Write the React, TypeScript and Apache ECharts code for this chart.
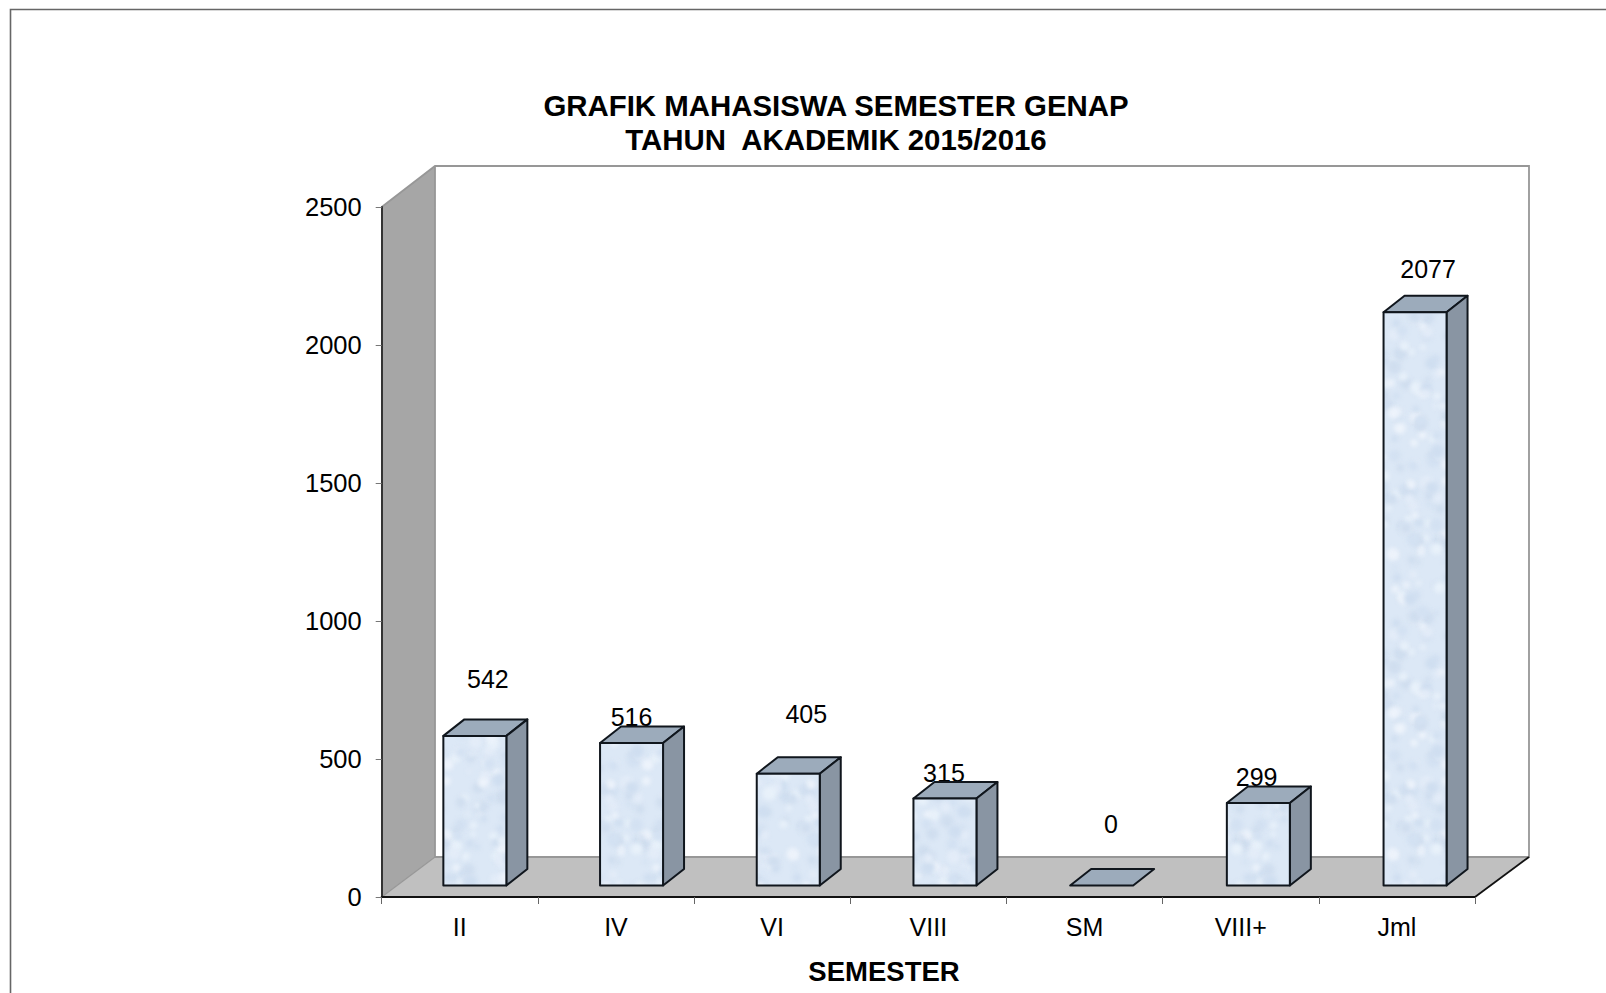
import React, { useEffect, useRef } from "react";
import * as echarts from "echarts";

const categories = ["II", "IV", "VI", "VIII", "SM", "VIII+", "Jml"];
const values = [542, 516, 405, 315, 0, 299, 2077];
const yTicks = { min: 0, max: 2500, interval: 500 };
const titleLines = "GRAFIK MAHASISWA SEMESTER GENAP\nTAHUN  AKADEMIK 2015/2016";
const xName = "SEMESTER";

// hand placement of each value label relative to the bar's front top centre
const labelDx = [13, 0, 18, -1, 9.3, -1.7, 13];
const labelDy = [-57, -25.6, -60, -25.3, -62, -25.5, -43.7];

const FONT = "'Liberation Sans', Arial, sans-serif";
const DEPTH_X = 21;
const DEPTH_Y = 16.5;

function makeTexture(): HTMLCanvasElement {
  const W = 200;
  const H = 300;
  const c = document.createElement("canvas");
  c.width = W;
  c.height = H;
  const ctx = c.getContext("2d") as CanvasRenderingContext2D;
  ctx.fillStyle = "#dce8f6";
  ctx.fillRect(0, 0, W, H);
  ctx.filter = "blur(2px)";
  const hues = ["#cfdef0", "#e8f1fa", "#d3e1f2", "#edf3fb", "#d0deef", "#e3ecf8"];
  for (let i = 0; i < 420; i++) {
    const a = Math.abs(Math.sin(i * 12.9898) * 43758.5453) % 1;
    const b = Math.abs(Math.sin(i * 78.233) * 24634.6345) % 1;
    const r = 2 + (Math.abs(Math.sin(i * 37.719) * 9631.17) % 1) * 5;
    ctx.fillStyle = hues[i % hues.length];
    for (const ox of [-W, 0, W]) {
      for (const oy of [-H, 0, H]) {
        ctx.beginPath();
        ctx.arc(a * W + ox, b * H + oy, r, 0, Math.PI * 2);
        ctx.fill();
      }
    }
  }
  return c;
}

export default function App() {
  const ref = useRef<HTMLDivElement>(null);
  useEffect(() => {
    const chart = echarts.init(ref.current as HTMLDivElement, undefined, { renderer: "svg" });
    const texture = makeTexture();
    const wallStroke = "#979797";
    const option: any = {
      animation: false,
      backgroundColor: "#ffffff",
      title: [
        {
          text: titleLines,
          left: 831,
          top: 83,
          textAlign: "center",
          textStyle: { fontFamily: FONT, fontWeight: "bold", fontSize: 29.4, lineHeight: 34.5, color: "#000" },
        },
        {
          text: xName,
          left: 879,
          top: 952,
          textAlign: "center",
          textStyle: { fontFamily: FONT, fontWeight: "bold", fontSize: 27.5, color: "#000" },
        },
      ],
      graphic: [
        { type: "polyline", z: -5, silent: true, shape: { points: [[10.5, 993], [10.5, 9.5], [1606, 9.5]] }, style: { fill: "none", stroke: "#666", lineWidth: 1.6 } },
        { type: "polygon", z: -4, silent: true, shape: { points: [[381.7, 207], [435, 166], [435, 857], [381.7, 897]] }, style: { fill: "#a6a6a6", stroke: "none" } },
        { type: "polygon", z: -4, silent: true, shape: { points: [[381.7, 897], [435, 857], [1529, 857], [1475, 897]] }, style: { fill: "#c0c0c0", stroke: "none" } },
        { type: "polyline", z: -3, silent: true, shape: { points: [[381.7, 207], [435, 166], [1529, 166], [1529, 857], [435, 857], [435, 166]] }, style: { fill: "none", stroke: wallStroke, lineWidth: 1.8 } },
        { type: "line", z: -3, silent: true, shape: { x1: 1475, y1: 897, x2: 1529, y2: 857 }, style: { stroke: "#111", lineWidth: 1.8 } },
        { type: "line", z: -3, silent: true, shape: { x1: 381.7, y1: 897, x2: 435, y2: 857 }, style: { stroke: wallStroke, lineWidth: 1.2 } },
      ],
      grid: [
        { left: 381.7, top: 207, width: 1093.3, height: 690 },
        { left: 396.5, top: 195.5, width: 1096.9, height: 690 },
      ],
      xAxis: [
        {
          type: "category",
          gridIndex: 0,
          data: categories,
          axisTick: { show: true, alignWithLabel: false, length: 7, lineStyle: { color: "#666", width: 1 } },
          axisLine: { lineStyle: { color: "#111", width: 2 } },
          axisLabel: { fontFamily: FONT, fontSize: 25, color: "#000", margin: 17, interval: 0 },
          splitLine: { show: false },
        },
        { type: "category", gridIndex: 1, data: categories, show: false },
      ],
      yAxis: [
        {
          type: "value",
          gridIndex: 0,
          min: yTicks.min,
          max: yTicks.max,
          interval: yTicks.interval,
          axisLine: { show: true, lineStyle: { color: "#333", width: 2 } },
          axisTick: { show: true, length: 6, lineStyle: { color: "#777", width: 1 } },
          axisLabel: { fontFamily: FONT, fontSize: 25.5, color: "#000", margin: 20, padding: [3, 0, 0, 0], formatter: (v: number) => String(v) },
          splitLine: { show: false },
        },
        { type: "value", gridIndex: 1, min: yTicks.min, max: yTicks.max, interval: yTicks.interval, show: false },
      ],
      series: [
        {
          type: "custom",
          name: "labels",
          xAxisIndex: 1,
          yAxisIndex: 1,
          z: 3,
          clip: false,
          data: values.map((v, i) => [i, v]),
          encode: { x: 0, y: 1 },
          renderItem: (params: any, api: any) => {
            const i = api.value(0);
            const v = api.value(1);
            const p = api.coord([i, v]);
            return {
              type: "text",
              style: {
                text: String(v),
                x: p[0] + labelDx[params.dataIndex],
                y: p[1] + labelDy[params.dataIndex],
                align: "center",
                verticalAlign: "middle",
                fontFamily: FONT,
                fontSize: 25,
                fill: "#000",
              },
            };
          },
        },
        {
          type: "custom",
          name: "bars",
          xAxisIndex: 1,
          yAxisIndex: 1,
          z: 4,
          clip: false,
          data: values.map((v, i) => [i, v]),
          encode: { x: 0, y: 1 },
          renderItem: (_params: any, api: any) => {
            const i = api.value(0);
            const v = api.value(1);
            const top = api.coord([i, v]);
            const base = api.coord([i, 0]);
            const w = api.size([1, 0])[0] * 0.402;
            const x0 = top[0] - w / 2;
            const x1 = top[0] + w / 2;
            const edge = { stroke: "#10161d", lineWidth: 2, lineJoin: "round" };
            const children: any[] = [
              {
                type: "polygon",
                shape: { points: [[x0, top[1]], [x0 + DEPTH_X, top[1] - DEPTH_Y], [x1 + DEPTH_X, top[1] - DEPTH_Y], [x1, top[1]]] },
                style: { fill: "#9cabbb", ...edge },
              },
            ];
            if (v > 0) {
              children.push(
                {
                  type: "polygon",
                  shape: { points: [[x1, top[1]], [x1 + DEPTH_X, top[1] - DEPTH_Y], [x1 + DEPTH_X, base[1] - DEPTH_Y], [x1, base[1]]] },
                  style: { fill: "#8995a3", ...edge },
                },
                {
                  type: "rect",
                  shape: { x: x0, y: top[1], width: w, height: base[1] - top[1] },
                  style: { fill: { image: texture, repeat: "repeat" }, ...edge },
                }
              );
            }
            return { type: "group", children };
          },
        },
      ],
    };
    chart.setOption(option);
    return () => chart.dispose();
  }, []);
  return <div ref={ref} style={{ position: "absolute", left: 0, top: 0, width: 1606, height: 993 }} />;
}
